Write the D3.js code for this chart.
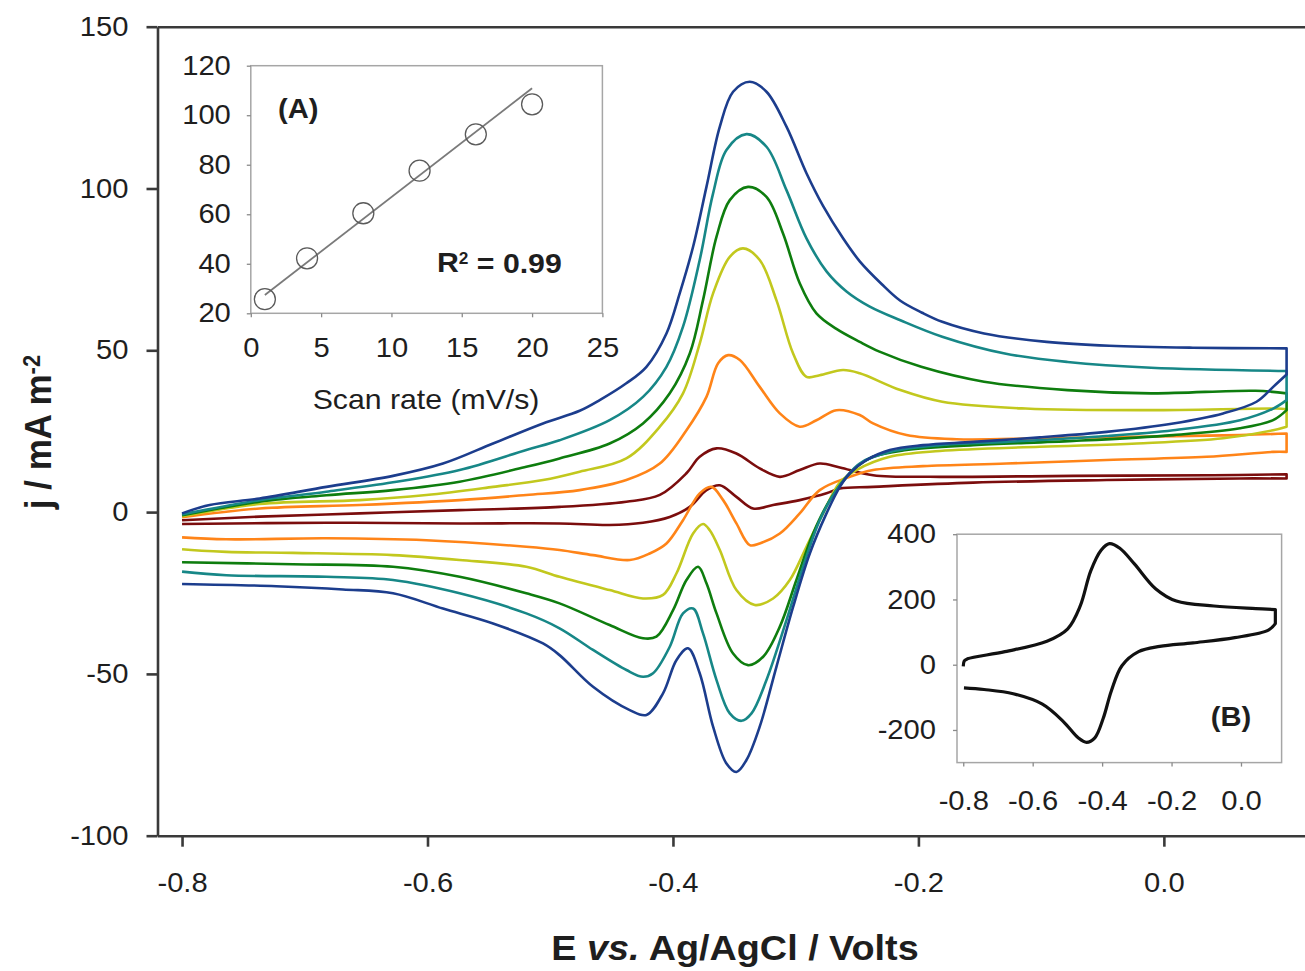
<!DOCTYPE html>
<html>
<head>
<meta charset="utf-8">
<script src="https://cdn.jsdelivr.net/npm/d3@7"></script>
<style>
  body { margin: 0; background: #fff; }
  text { font-family: "Liberation Sans", Arial, sans-serif; fill: #1e1e1e; }
</style>
</head>
<body>
<svg id="chart" width="1305" height="971"></svg>
<script>
// ---- main chart: cyclic voltammograms, [E (V), j (mA m-2)] ----
// forward scan -0.8 -> 0.1 V, then reverse scan 0.1 -> -0.8 V
const redFwd = [[-0.8,-2.5],[-0.7368,-1.4],[-0.6553,-0.4],[-0.5738,0.6],[-0.4924,1.6],[-0.438,3.2],[-0.4107,5.3],[-0.389,12],[-0.3782,17.1],[-0.3645,19.7],[-0.3483,18.1],[-0.3293,13.5],[-0.3129,10.9],[-0.2967,13],[-0.2804,15],[-0.264,13.8],[-0.2369,11.4],[-0.1826,10.9],[-0.0739,11.2],[0.04,11.4],[0.1,11.7]]
const redRev = [[0.1,10.4],[0.062,10.4],[-0.0467,9.9],[-0.1554,9.1],[-0.2369,7.8],[-0.264,7.3],[-0.2749,5.8],[-0.2967,3.7],[-0.3184,2.2],[-0.3347,1.1],[-0.3483,4.7],[-0.3618,8.3],[-0.3727,6.8],[-0.3863,1.6],[-0.4026,-1.5],[-0.4244,-3.3],[-0.4516,-4],[-0.4924,-3.5],[-0.5738,-3.5],[-0.6824,-3.3],[-0.8,-3.7]]

const orangeFwd = [[-0.8,-1.6],[-0.7368,1.1],[-0.6553,2.2],[-0.5738,3.7],[-0.5195,5.3],[-0.476,6.8],[-0.438,9.9],[-0.4107,15],[-0.389,25.3],[-0.3727,35.6],[-0.3632,46],[-0.355,48.5],[-0.3455,47],[-0.3293,38.7],[-0.3129,30.5],[-0.2967,26.4],[-0.2831,28.4],[-0.2668,31.5],[-0.2478,30],[-0.2369,27.4],[-0.2097,23.8],[-0.1689,22.5],[-0.101,22.8],[-0.022,23.3],[0.062,23.8],[0.1,24.3]]
const orangeRev = [[0.1,18.6],[0.089,18.6],[0.0348,17.1],[-0.0467,16.1],[-0.1282,15],[-0.1962,14.2],[-0.2369,13],[-0.2559,10.9],[-0.2804,6.8],[-0.2967,-0.4],[-0.3129,-6.6],[-0.3293,-9.7],[-0.3374,-10.2],[-0.3483,-3.5],[-0.3591,3.7],[-0.3686,7.8],[-0.3782,5.8],[-0.3918,-2.5],[-0.4053,-9.7],[-0.419,-12.8],[-0.4352,-14.8],[-0.4651,-13.3],[-0.4924,-11.7],[-0.5195,-10.7],[-0.6009,-8.7],[-0.6824,-8.1],[-0.7639,-8.4],[-0.8,-7.8]]

const yellowFwd = [[-0.8,-1.3],[-0.7368,2.5],[-0.6553,3.7],[-0.6009,5.3],[-0.5466,7.8],[-0.5059,9.9],[-0.476,12.5],[-0.438,16.6],[-0.4107,26.4],[-0.3918,36.7],[-0.3782,52.1],[-0.3673,67.6],[-0.3537,78.9],[-0.3429,81.5],[-0.3293,77.9],[-0.3157,65.5],[-0.3021,49],[-0.2912,41.8],[-0.2804,42.3],[-0.2614,43.9],[-0.2478,42.9],[-0.2147,37.7],[-0.1806,34.1],[-0.1126,32],[-0.0104,31.5],[0.0918,32],[0.1,31.8]]
const yellowRev = [[0.1,26.4],[0.089,25.3],[0.0483,22.8],[-0.022,21.2],[-0.101,20.2],[-0.1826,18.9],[-0.2233,17.1],[-0.2505,13],[-0.264,9.2],[-0.2777,-0.4],[-0.2912,-10.7],[-0.3048,-21],[-0.3184,-26.7],[-0.3333,-28.7],[-0.3483,-24.1],[-0.3618,-11.7],[-0.37,-5.6],[-0.3755,-3.7],[-0.3836,-6.6],[-0.3971,-18.9],[-0.4081,-25.6],[-0.4244,-26.7],[-0.4516,-24.1],[-0.4924,-20],[-0.5195,-16.9],[-0.5738,-14.8],[-0.6281,-13.3],[-0.7096,-12.6],[-0.7639,-12.3],[-0.8,-11.5]]

const greenFwd = [[-0.8,-1],[-0.7368,3.2],[-0.6824,5.2],[-0.6281,6.8],[-0.5738,9.4],[-0.5195,14],[-0.4924,16.6],[-0.4516,21.2],[-0.4244,27.4],[-0.4026,36.7],[-0.3863,49],[-0.3755,65.5],[-0.3645,85.1],[-0.3537,96.4],[-0.3388,100.5],[-0.3238,97.4],[-0.3103,86.1],[-0.2967,70.7],[-0.2831,61.4],[-0.2668,56.6],[-0.2478,52.6],[-0.2317,49.6],[-0.1977,44.9],[-0.1465,40.3],[-0.0785,37.7],[-0.0104,36.7],[0.0747,37.5],[0.1,36.7]]
const greenRev = [[0.1,31.5],[0.089,28.4],[0.062,25.9],[0.0076,23.8],[-0.0739,22],[-0.1554,20.7],[-0.2097,19.2],[-0.2369,17.1],[-0.2532,13],[-0.2722,3.7],[-0.2858,-6.6],[-0.2994,-21],[-0.3129,-35.4],[-0.3265,-44.7],[-0.3388,-47.3],[-0.351,-43.7],[-0.3645,-31.3],[-0.3727,-22],[-0.3795,-16.9],[-0.389,-21],[-0.3999,-30.3],[-0.4135,-38.5],[-0.4244,-39],[-0.4516,-34.9],[-0.4924,-28.2],[-0.5195,-25.1],[-0.5738,-20],[-0.6281,-16.9],[-0.7096,-16.1],[-0.8,-15.5]]

const tealFwd = [[-0.8,-0.7],[-0.7368,3.7],[-0.6824,6.3],[-0.6281,9.2],[-0.5738,13],[-0.5195,19.2],[-0.4924,22.2],[-0.4516,28.4],[-0.4244,35.6],[-0.4053,44.9],[-0.3918,57.3],[-0.3782,77.9],[-0.3673,98.5],[-0.3564,111.9],[-0.3401,116.8],[-0.3238,112.9],[-0.3075,99.5],[-0.2912,84.6],[-0.2749,74.4],[-0.2586,68.2],[-0.2400,63.6],[-0.2147,59.3],[-0.1806,54.2],[-0.1296,49],[-0.0785,46.4],[-0.0104,44.6],[0.1,43.6]]
const tealRev = [[0.1,34.6],[0.0891,32],[0.062,28.4],[0.0076,25.3],[-0.0467,23.5],[-0.1282,21.7],[-0.1826,20.7],[-0.2233,18.6],[-0.2478,15],[-0.2668,6.8],[-0.2804,-2.5],[-0.294,-16.9],[-0.3075,-33.4],[-0.3238,-51.9],[-0.336,-62.2],[-0.3442,-64.5],[-0.3537,-62.2],[-0.3645,-51.9],[-0.3755,-37.5],[-0.3836,-29.8],[-0.3918,-31.3],[-0.4026,-41.6],[-0.4162,-49.8],[-0.4244,-50.9],[-0.4379,-48.8],[-0.4651,-42.6],[-0.4924,-35.9],[-0.5195,-31.3],[-0.5738,-25.1],[-0.6281,-21],[-0.6824,-20],[-0.7639,-19.5],[-0.8,-18.4]]

const blueFwd = [[-0.8,-0.4],[-0.7775,2.2],[-0.7368,4.2],[-0.6824,7.8],[-0.6281,11.2],[-0.5874,15],[-0.5466,21.2],[-0.5059,27.4],[-0.476,31.3],[-0.4597,34.6],[-0.438,39.8],[-0.4216,44.9],[-0.4053,55.2],[-0.3945,67.6],[-0.3836,82],[-0.3727,100.5],[-0.3618,119.1],[-0.351,129.9],[-0.3374,133],[-0.3238,129.9],[-0.3075,119.1],[-0.2912,104.7],[-0.2777,94.6],[-0.2614,84.6],[-0.2478,77.5],[-0.23,70.5],[-0.2147,65.3],[-0.197,61.6],[-0.1806,58.8],[-0.1465,55.2],[-0.0955,52.6],[-0.0444,51.4],[0.0236,50.8],[0.1,50.6]]
const blueRev = [[0.1,42.5],[0.0891,38.7],[0.0755,34.1],[0.0483,30.5],[0.0076,27.4],[-0.0467,24.8],[-0.101,23.1],[-0.1554,21.7],[-0.1962,20.7],[-0.2233,19.2],[-0.2423,16.1],[-0.2559,12],[-0.264,7.8],[-0.2749,-0.4],[-0.2885,-12.8],[-0.3021,-29.3],[-0.3157,-47.8],[-0.3293,-66.3],[-0.3401,-76.6],[-0.3483,-80.3],[-0.3564,-77.7],[-0.3673,-66.3],[-0.3782,-49.8],[-0.3877,-42.1],[-0.3971,-45.7],[-0.4081,-56],[-0.4216,-62.7],[-0.4352,-61.2],[-0.4651,-54],[-0.4924,-44.2],[-0.5059,-40.6],[-0.5466,-34.4],[-0.5874,-29.8],[-0.6281,-25.1],[-0.6689,-23.9],[-0.7232,-22.9],[-0.8,-22.2]]

const curveColors = ["#7b0d0d", "#ff8418", "#c2c81e", "#0e7d0e", "#178787", "#1c3d8d"]
const mainYTicks = [-100, -50, 0, 50, 100, 150]
const mainXTicks = [-0.8, -0.6, -0.4, -0.2, 0.0]

// ---- inset A: peak current vs scan rate ----
const scanRates = [1, 4, 8, 12, 16, 20]
const peakCurrents = [25.7, 42.2, 60.4, 77.6, 92.3, 104.4]
const fitLine = [[1, 27.4], [20, 110.9]]
const insetAYTicks = [20, 40, 60, 80, 100, 120]
const insetAXTicks = [0, 5, 10, 15, 20, 25]

// ---- inset B: single voltammogram ----
const bFwd = [[-0.8,-5],[-0.797,12],[-0.788,18],[-0.68,40],[-0.559,72],[-0.499,110],[-0.463,180],[-0.433,287],[-0.403,351],[-0.379,371],[-0.349,357],[-0.307,309],[-0.246,233],[-0.186,195],[-0.078,180],[0.043,172],[0.099,169]]
const bRev = [[0.099,126],[0.079,106],[-0.018,83],[-0.138,67],[-0.234,56],[-0.295,40],[-0.343,-3],[-0.373,-79],[-0.397,-165],[-0.421,-224],[-0.445,-238],[-0.469,-224],[-0.511,-175],[-0.572,-121],[-0.656,-89],[-0.74,-76],[-0.798,-71]]
const insetBYTicks = [-200, 0, 200, 400]
const insetBXTicks = [-0.8, -0.6, -0.4, -0.2, 0.0]

const SX = 1.08   // the figure's lettering is slightly wide

const svg = d3.select("#chart")
svg.append("rect").attr("width", 1305).attr("height", 971).attr("fill", "#fff")

function stretch(sel, s) {
    sel.each(function () {
        const t = d3.select(this)
        const x0 = +t.attr("x") || 0
        t.attr("x", x0 / s).attr("transform", "scale(" + s + ",1)")
    })
}

function label(px, py, str, size, anchor, bold) {
    const g = svg.append("g").attr("transform", "translate(" + px + "," + py + ") scale(" + SX + ",1)")
    return g.append("text")
        .attr("text-anchor", anchor)
        .style("font-size", size + "px")
        .style("font-weight", bold ? "bold" : "normal")
        .text(str)
}

// smooth each scan branch, joined by a straight switching segment
function loopPath(line, fwd, rev) {
    return line(fwd) + line(rev).replace(/^M/, "L")
}

// ---- main scales & axes ----
const x = d3.scaleLinear().domain([-0.82, 0.115]).range([157.5, 1305])
const y = d3.scaleLinear().domain([-100, 150]).range([835.7, 26.7])

const fmt1 = d => d.toFixed(1)

const curveLine = d3.line()
    .x(d => x(d[0]))
    .y(d => y(d[1]))
    .curve(d3.curveCatmullRom.alpha(0.5))

const loops = [[redFwd, redRev], [orangeFwd, orangeRev], [yellowFwd, yellowRev],
               [greenFwd, greenRev], [tealFwd, tealRev], [blueFwd, blueRev]]

svg.append("g")
    .selectAll("path")
    .data(loops)
    .enter()
    .append("path")
    .attr("d", d => loopPath(curveLine, d[0], d[1]))
    .attr("fill", "none")
    .attr("stroke", (d, i) => curveColors[i])
    .attr("stroke-width", 2.6)
    .attr("stroke-linejoin", "round")

const yAxis = svg.append("g")
    .attr("transform", "translate(157.5,0)")
    .call(d3.axisLeft(y).tickValues(mainYTicks).tickFormat(d => String(d)).tickSize(11).tickSizeOuter(0).tickPadding(18))
const xAxis = svg.append("g")
    .attr("transform", "translate(0,835.7)")
    .call(d3.axisBottom(x).tickValues(mainXTicks).tickFormat(fmt1).tickSize(11).tickSizeOuter(0).tickPadding(26))
svg.append("g")
    .attr("transform", "translate(0,26.7)")
    .call(d3.axisTop(x).tickValues([]).tickSizeOuter(0))

svg.selectAll(".domain, .tick line").attr("stroke", "#3a3a3a").attr("stroke-width", 2.6)
yAxis.selectAll("text").style("font-size", "27px").attr("fill", "#1e1e1e")
xAxis.selectAll("text").style("font-size", "27px").attr("fill", "#1e1e1e")
stretch(yAxis.selectAll("text"), SX)
stretch(xAxis.selectAll("text"), SX)

// axis titles
const yt = svg.append("g").attr("transform", "translate(51,432) scale(" + SX + ",1) rotate(-90)")
    .append("text").attr("text-anchor", "middle").style("font-size", "35px").style("font-weight", "bold")
yt.append("tspan").text("j / mA m")
yt.append("tspan").attr("dy", "-0.45em").style("font-size", "22px").text("-2")

const xt = svg.append("g").attr("transform", "translate(735,960) scale(" + SX + ",1)")
    .append("text").attr("text-anchor", "middle").style("font-size", "35px").style("font-weight", "bold")
xt.append("tspan").text("E ")
xt.append("tspan").style("font-style", "italic").text("vs.")
xt.append("tspan").text(" Ag/AgCl / Volts")

// ---- inset A ----
const xA = d3.scaleLinear().domain([0, 25]).range([250.8, 602.4])
const yA = d3.scaleLinear().domain([20, 120]).range([313.3, 65.7])

svg.append("rect")
    .attr("x", xA(0)).attr("y", yA(120))
    .attr("width", xA(25) - xA(0)).attr("height", yA(20) - yA(120))
    .attr("fill", "#fff").attr("stroke", "#a6a6a6").attr("stroke-width", 1.5)

const aY = svg.append("g").attr("transform", "translate(" + xA(0) + ",0)")
    .call(d3.axisLeft(yA).tickValues(insetAYTicks).tickFormat(d => String(d)).tickSize(4).tickSizeOuter(0).tickPadding(16))
const aX = svg.append("g").attr("transform", "translate(0," + yA(20) + ")")
    .call(d3.axisBottom(xA).tickValues(insetAXTicks).tickFormat(d => String(d)).tickSize(4).tickSizeOuter(0).tickPadding(21))
aY.select(".domain").remove()
aX.select(".domain").remove()
aY.selectAll(".tick line").attr("stroke", "#8a8a8a").attr("stroke-width", 1.3)
aX.selectAll(".tick line").attr("stroke", "#8a8a8a").attr("stroke-width", 1.3)
aY.selectAll("text").style("font-size", "27px").attr("fill", "#1e1e1e")
aX.selectAll("text").style("font-size", "27px").attr("fill", "#1e1e1e")
stretch(aY.selectAll("text"), SX)
stretch(aX.selectAll("text"), SX)

svg.append("path")
    .attr("d", d3.line().x(d => xA(d[0])).y(d => yA(d[1]))(fitLine))
    .attr("stroke", "#7a7a7a").attr("stroke-width", 1.8).attr("fill", "none")

svg.append("g")
    .selectAll("circle")
    .data(scanRates)
    .enter()
    .append("circle")
    .attr("cx", d => xA(d))
    .attr("cy", (d, i) => yA(peakCurrents[i]))
    .attr("r", 10.5)
    .attr("fill", "none")
    .attr("stroke", "#5a5a5a")
    .attr("stroke-width", 1.3)

label(426, 409, "Scan rate (mV/s)", 28, "middle", false)
label(278, 118, "(A)", 27, "start", true)
const r2 = label(437, 272, "", 28, "start", true)
r2.append("tspan").text("R")
r2.append("tspan").attr("dy", "-0.5em").style("font-size", "16px").text("2")
r2.append("tspan").attr("dy", "0.32em").text(" = 0.99")

// ---- inset B ----
const xB = d3.scaleLinear().domain([-0.818, 0.117]).range([957, 1281.6])
const yB = d3.scaleLinear().domain([-300, 400]).range([762.6, 534.2])

svg.append("rect")
    .attr("x", xB(-0.818)).attr("y", yB(400))
    .attr("width", xB(0.117) - xB(-0.818)).attr("height", yB(-300) - yB(400))
    .attr("fill", "#fff").attr("stroke", "#a6a6a6").attr("stroke-width", 1.5)

const bY = svg.append("g").attr("transform", "translate(" + xB(-0.818) + ",0)")
    .call(d3.axisLeft(yB).tickValues(insetBYTicks).tickFormat(d => String(d)).tickSize(4).tickSizeOuter(0).tickPadding(17))
const bX = svg.append("g").attr("transform", "translate(0," + yB(-300) + ")")
    .call(d3.axisBottom(xB).tickValues(insetBXTicks).tickFormat(fmt1).tickSize(4).tickSizeOuter(0).tickPadding(24))
bY.select(".domain").remove()
bX.select(".domain").remove()
bY.selectAll(".tick line").attr("stroke", "#8a8a8a").attr("stroke-width", 1.3)
bX.selectAll(".tick line").attr("stroke", "#8a8a8a").attr("stroke-width", 1.3)
bY.selectAll("text").style("font-size", "27px").attr("fill", "#1e1e1e")
bX.selectAll("text").style("font-size", "27px").attr("fill", "#1e1e1e")
stretch(bY.selectAll("text"), SX)
stretch(bX.selectAll("text"), SX)

const bLine = d3.line().x(d => xB(d[0])).y(d => yB(d[1])).curve(d3.curveCatmullRom.alpha(0.5))
svg.append("path")
    .attr("d", loopPath(bLine, bFwd, bRev))
    .attr("fill", "none")
    .attr("stroke", "#111")
    .attr("stroke-width", 3.2)
    .attr("stroke-linejoin", "round")

label(1231, 726, "(B)", 27, "middle", true)
</script>
</body>
</html>
